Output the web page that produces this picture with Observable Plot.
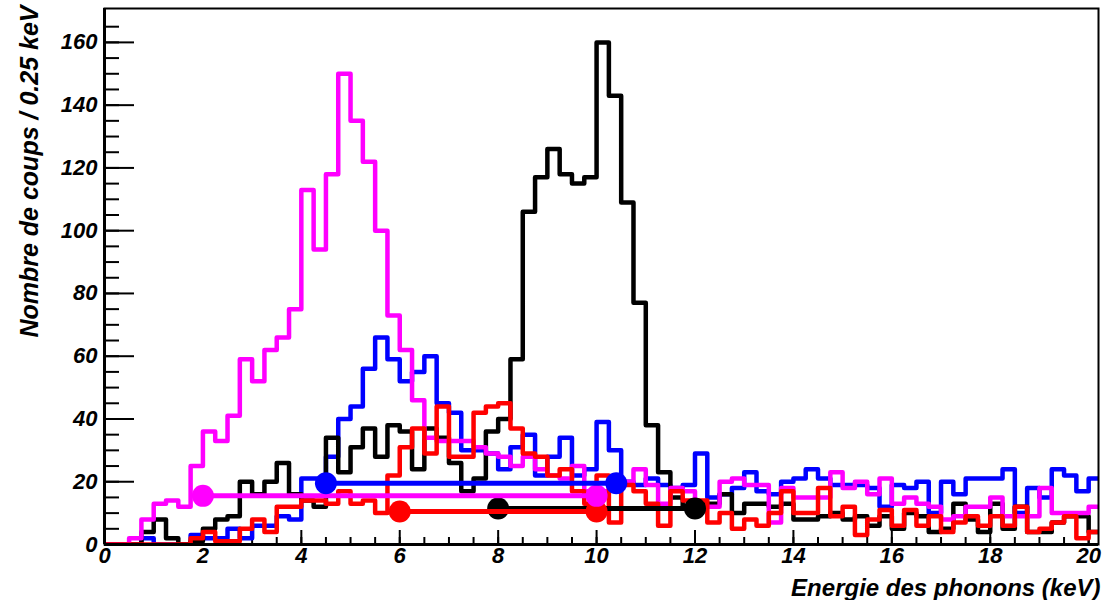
<!DOCTYPE html>
<html><head><meta charset="utf-8">
<script src="https://cdn.jsdelivr.net/npm/d3@7"></script>
<script src="https://cdn.jsdelivr.net/npm/@observablehq/plot@0.6"></script>
<style>
body{margin:0;background:#fff;}
#chart svg text{font-family:"Liberation Sans",Arial,sans-serif;font-weight:bold;font-style:italic;}
</style></head><body><div id="chart"></div>
<script>
// bin width of the histograms (keV)
const binWidth = 0.25;
// counts per 0.25 keV bin, starting at 0 keV
const magenta = [0,0,2,8,13,14,12,25,36,33,41,59,52,62,66,75,113,94,118,150,135,122,100,73,62,46,34,33,33,33,31,29,28,25,28,24,22,21,25,17,17,20,20,24,19,13,18,17,12,12,20,21,19,19,7,18,15,15,15,23,18,20,16,21,13,15,13,12,8,9,12,12,15,9,9,9,18,10,10,10,12];
const blue    = [0,0,0,2,0,0,0,3,2,2,5,2,6,6,9,8,21,21,28,40,44,56,66,59,52,55,60,45,42,30,30,29,24,31,35,22,28,34,22,24,39,30,20,19,21,19,18,19,29,15,16,18,23,17,16,20,21,24,21,19,19,19,18,12,19,18,20,10,20,16,21,21,21,24,10,18,15,24,22,17,21];
const black   = [0,0,0,4,8,2,0,1,5,8,9,20,16,20,26,16,14,12,34,23,31,37,28,38,36,24,37,34,26,17,21,36,40,59,106,117,126,118,115,117,160,143,109,77,38,23,15,12,13,13,16,10,13,13,12,13,8,8,9,10,8,9,6,9,5,10,9,4,5,13,8,4,13,5,12,4,4,7,9,9,4];
const red     = [0,0,0,0,0,0,0,2,4,1,1,5,8,4,12,12,14,14,13,17,13,14,10,22,31,37,29,44,28,28,42,44,45,37,29,28,22,24,17,13,22,7,19,17,13,6,17,14,14,7,10,5,8,6,10,17,10,10,18,9,12,3,8,11,6,11,6,9,4,7,9,6,9,6,12,4,5,7,9,2,4];

// horizontal markers: series name, start (keV), end (keV), level (counts)
const markerNames = ["black","red","magenta","blue"];
const markerStart = [8, 6, 2, 4.5];
const markerEnd   = [12, 10, 10, 10.4];
const markerLevel = [11.5, 10.5, 15.5, 19.5];

const colors = {magenta:"#ff00ff", blue:"#0000ff", black:"#000000", red:"#ff0000"};

// axis ticks and labels
const xTicks = [0,2,4,6,8,10,12,14,16,18,20];
const xMinor = d3.range(0, 20.01, 0.5);
const yTicks = [0,20,40,60,80,100,120,140,160];
const yMinor = d3.range(0, 170, 5);
const xTitle = "Energie des phonons (keV)";
const yTitle = "Nombre de coups / 0.25 keV";

const W = 1105, H = 600, mL = 104, mR = 7, mT = 8, mB = 56;
const innerW = W - mL - mR, innerH = H - mT - mB;

function steps(vals){
  const pts = vals.map((v,i)=>({x:i*binWidth, y:v}));
  pts.push({x: vals.length*binWidth, y: vals[vals.length-1]});
  return pts;
}
const series = [["blue",blue],["black",black],["magenta",magenta],["red",red]];

const markerLines = [];
const markerDots = [];
markerNames.forEach((n,i)=>{
  markerLines.push({name:n, x:markerStart[i], y:markerLevel[i], seg:i});
  markerLines.push({name:n, x:markerEnd[i], y:markerLevel[i], seg:i});
  markerDots.push({name:n, x:markerStart[i], y:markerLevel[i]});
  markerDots.push({name:n, x:markerEnd[i], y:markerLevel[i]});
});

const marks = [];
// inner ticks
marks.push(Plot.ruleX(xMinor, {stroke:"black", strokeWidth:2, insetTop: innerH-7}));
marks.push(Plot.ruleX(xTicks, {stroke:"black", strokeWidth:2, insetTop: innerH-14}));
marks.push(Plot.ruleY(yMinor, {stroke:"black", strokeWidth:2, insetRight: innerW-15}));
marks.push(Plot.ruleY(yTicks, {stroke:"black", strokeWidth:2, insetRight: innerW-30}));
// histograms
for (const [n, vals] of series) {
  marks.push(Plot.line(steps(vals), {x:"x", y:"y", curve:"step-after", stroke:colors[n], strokeWidth:4.5, clip:true}));
}
// markers
markerNames.forEach((n,i)=>{
  marks.push(Plot.line(markerLines.filter(d=>d.seg===i), {x:"x", y:"y", stroke:colors[n], strokeWidth:5}));
  marks.push(Plot.dot(markerDots.filter(d=>d.name===n), {x:"x", y:"y", r:11, fill:colors[n], stroke:null}));
});
// frame
marks.push(Plot.frame({stroke:"black", strokeWidth:2}));
marks.push(Plot.ruleX([0], {stroke:"black", strokeWidth:3}));
marks.push(Plot.ruleY([0], {stroke:"black", strokeWidth:3}));
// axes
marks.push(Plot.axisX(xTicks, {tickSize:0, tickPadding:3, fontSize:22, label:null, tickFormat:d=>String(d)}));
marks.push(Plot.axisY(yTicks, {tickSize:0, tickPadding:7, fontSize:22, label:null, tickFormat:d=>String(d)}));
// titles
marks.push(Plot.text([xTitle], {frameAnchor:"bottom-right", dy:44, dx:2, textAnchor:"end", lineAnchor:"middle", fontSize:24, fill:"black"}));
marks.push(Plot.text([yTitle], {frameAnchor:"top-left", dx:-84, dy:-3, rotate:-90, textAnchor:"end", fontSize:25, fill:"black"}));

const chart = Plot.plot({
  width: W, height: H,
  marginLeft: mL, marginRight: mR, marginTop: mT, marginBottom: mB,
  x: {domain:[0, 20.2], axis:null},
  y: {domain:[0, 170.8], axis:null},
  style: {background:"white", overflow:"visible"},
  marks
});
document.getElementById("chart").appendChild(chart);
</script></body></html>
